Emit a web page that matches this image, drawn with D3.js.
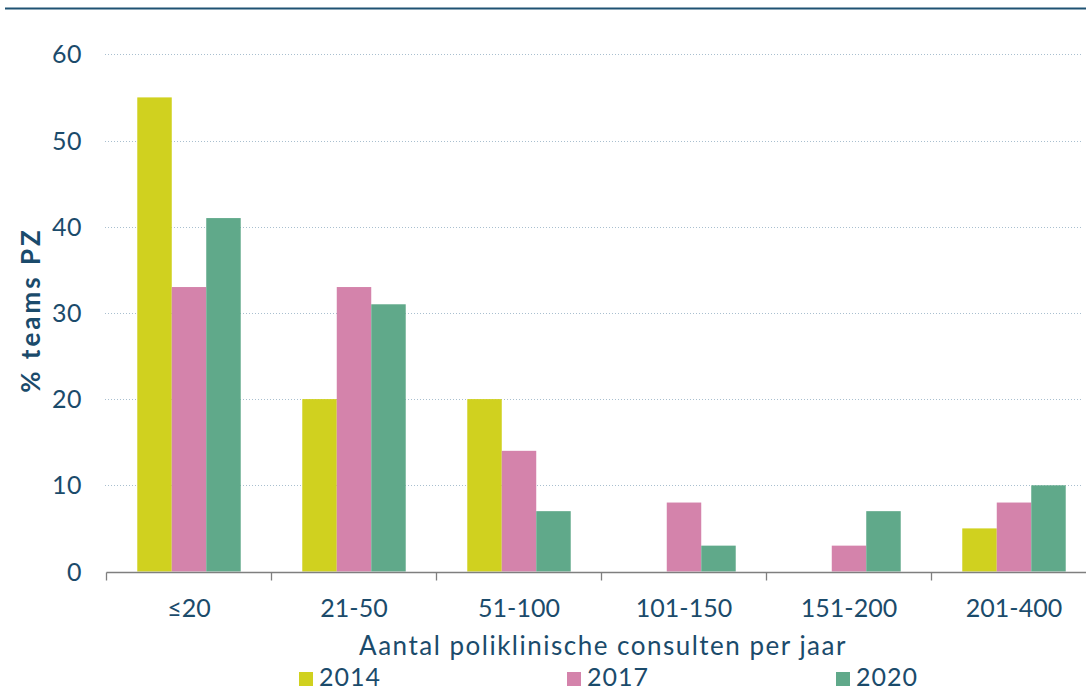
<!DOCTYPE html>
<html>
<head>
<meta charset="utf-8">
<script src="https://cdn.jsdelivr.net/npm/d3@7"></script>
<style>
  body { margin: 0; background: #fff; }
  svg { display: block; font-family: "Century Gothic", "Lato", sans-serif; }
</style>
</head>
<body>
<svg id="chart" width="1086" height="692"></svg>
<script>
// Data
const categories = ["≤20", "21-50", "51-100", "101-150", "151-200", "201-400"];
const years = ["2014", "2017", "2020"];
const values2014 = [55, 20, 20, 0, 0, 5];
const values2017 = [33, 33, 14, 8, 3, 8];
const values2020 = [41, 31, 7, 3, 7, 10];
const yTicks = [0, 10, 20, 30, 40, 50, 60];
const colors = ["#d0d11f", "#d483ab", "#60a98a"];

const textColor = "#1b4b6b";
const svg = d3.select("#chart");

// Plot area
const plotLeft = 106.5, plotRight = 1096.5, plotTop = 54.3, plotBottom = 571.5;

const x0 = d3.scaleBand()
    .domain(categories)
    .range([plotLeft, plotRight])
    .paddingInner(0.373)
    .paddingOuter(0.1865);

const x1 = d3.scaleBand()
    .domain(years)
    .range([0, x0.bandwidth()]);

const y = d3.scaleLinear().domain([0, 60]).range([plotBottom, plotTop]);

// Top rule
svg.append("line")
    .attr("x1", 5).attr("x2", 1086)
    .attr("y1", 8.5).attr("y2", 8.5)
    .attr("stroke", "#1f5273")
    .attr("stroke-width", 2);

// Gridlines
svg.append("g")
    .selectAll("line")
    .data(yTicks.filter(d => d > 0))
    .join("line")
    .attr("x1", 105).attr("x2", 1083)
    .attr("y1", d => Math.round(y(d)) + 0.5)
    .attr("y2", d => Math.round(y(d)) + 0.5)
    .attr("stroke", "#a9bfcf")
    .attr("stroke-width", 1)
    .attr("stroke-dasharray", "1,2");

// Y labels
svg.append("g")
    .selectAll("text")
    .data(yTicks)
    .join("text")
    .attr("x", 82)
    .attr("y", d => y(d))
    .attr("dy", "0.36em")
    .attr("text-anchor", "end")
    .attr("fill", textColor)
    .attr("font-size", 25)
    .attr("letter-spacing", 0.5)
    .text(d => d);

// Bars
const series = [values2014, values2017, values2020];
const rows = categories.map((c, i) => ({
    cat: c,
    vals: years.map((yr, j) => ({ year: yr, value: series[j][i], color: colors[j] }))
}));

svg.append("g")
    .selectAll("g")
    .data(rows)
    .join("g")
    .attr("transform", d => `translate(${x0(d.cat)},0)`)
    .selectAll("rect")
    .data(d => d.vals)
    .join("rect")
    .attr("x", d => x1(d.year))
    .attr("y", d => y(d.value))
    .attr("width", x1.bandwidth())
    .attr("height", d => y(0) - y(d.value))
    .attr("fill", d => d.color);

// X axis
const xAxis = svg.append("g")
    .attr("transform", `translate(0,${Math.round(plotBottom) + 0.5})`);
xAxis.append("line")
    .attr("x1", plotLeft).attr("x2", 1086)
    .attr("stroke", "#7f7f7f").attr("stroke-width", 1.3);
const step = x0.step();
xAxis.selectAll(".tick")
    .data(d3.range(categories.length + 1))
    .join("line")
    .attr("class", "tick")
    .attr("x1", i => plotLeft + i * step).attr("x2", i => plotLeft + i * step)
    .attr("y1", 0).attr("y2", 8)
    .attr("stroke", "#7f7f7f").attr("stroke-width", 1.3);

svg.append("g")
    .selectAll("text")
    .data(categories)
    .join("text")
    .attr("x", d => x0(d) + x0.bandwidth() / 2)
    .attr("y", 617)
    .attr("text-anchor", "middle")
    .attr("fill", textColor)
    .attr("font-size", 25)
    .text(d => d);

// Axis titles
svg.append("text")
    .attr("x", 603)
    .attr("y", 655)
    .attr("text-anchor", "middle")
    .attr("fill", textColor)
    .attr("font-size", 26)
    .attr("letter-spacing", 1.5)
    .text("Aantal poliklinische consulten per jaar");

svg.append("text")
    .attr("transform", "translate(40,310) rotate(-90)")
    .attr("text-anchor", "middle")
    .attr("fill", textColor)
    .attr("font-size", 26)
    .attr("font-weight", "bold")
    .attr("letter-spacing", 3)
    .text("% teams PZ");

// Legend
const legendX = [299, 567, 836];
const legend = svg.append("g")
    .selectAll("g")
    .data(years)
    .join("g")
    .attr("transform", (d, i) => `translate(${legendX[i]},672)`);
legend.append("rect")
    .attr("width", 14).attr("height", 14)
    .attr("fill", (d, i) => colors[i]);
legend.append("text")
    .attr("x", 20)
    .attr("y", 14)
    .attr("fill", textColor)
    .attr("font-size", 25)
    .attr("letter-spacing", 1)
    .text(d => d);
</script>
</body>
</html>
